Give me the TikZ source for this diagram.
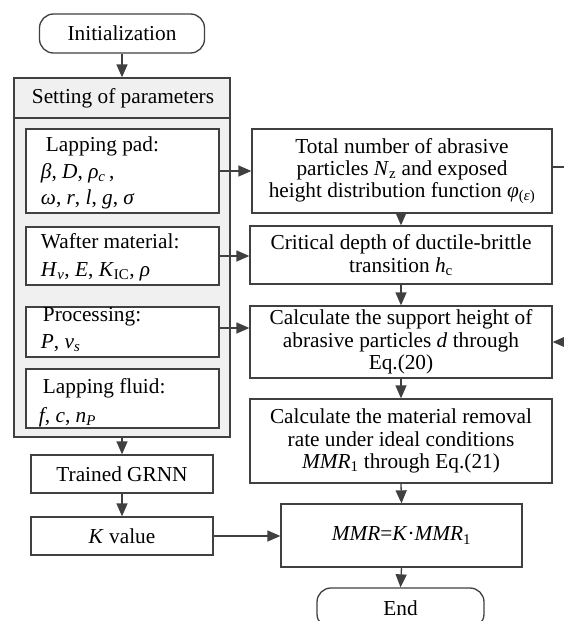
\documentclass[tikz,border=0pt]{standalone}
\usepackage{fontspec}
\setmainfont{Liberation Serif}
\usetikzlibrary{arrows.meta,calc}
\newcommand\lsb[1]{\textsubscript{#1}}
\begin{document}
\begin{tikzpicture}[x=1pt,y=-1pt,
  line width=1.3pt,
  every node/.style={font=\fontsize{21.3}{22.3}\selectfont, text=black},
  ln/.style={draw=black!75, line width=1.3pt},
  arr/.style={ln, -{Triangle[length=13pt,width=11pt]}},
  bx/.style={ln, rectangle, inner sep=0pt, align=center},
  term/.style={ln, rectangle, rounded corners=14pt, inner sep=0pt},
  pbox/.style={ln, fill=white, rectangle, minimum width=193pt, inner sep=0pt}
]
\useasboundingbox (0,0) rectangle (564,621);
\fill[white] (0,0) rectangle (564,621);

% start
\node[term, minimum width=165pt, minimum height=39pt] (init) at (122,33.5) {Initialization};

% outer parameter box
\node[ln, fill=black!6, rectangle, minimum width=216pt, minimum height=359pt, inner sep=0pt] (outer) at (122,257.5) {};
\draw[ln] (14,118) -- (230,118);
\node (head) at (123,98) {Setting of parameters};

% parameter boxes
\node[pbox, minimum height=84pt] (pad) at (122.5,171) {};
\node[anchor=base west] (pad1) at (42,151) {Lapping pad:};
\node[anchor=base west] (pad2) at (37,178) {\textit{β}, \textit{D}, \textit{ρ}\lsb{\textit{c}}\,,};
\node[anchor=base west] (pad3) at (37,204) {\textit{ω}, \textit{r}, \textit{l}, \textit{g}, \textit{σ}};

\node[pbox, minimum height=58pt] (waf) at (122.5,256) {};
\node[anchor=base west] (waf1) at (37,248) {Wafter material:};
\node[anchor=base west] (waf2) at (37,276) {\textit{H}\lsb{\textit{v}}, \textit{E}, \textit{K}\lsb{IC}, \textit{ρ}};

\node[pbox, minimum height=50pt] (proc) at (122.5,332) {};
\node[anchor=base west] (proc1) at (39,321) {Processing:};
\node[anchor=base west] (proc2) at (37,348) {\textit{P}, \textit{v}\lsb{\textit{s}}};

\node[pbox, minimum height=59pt] (flu) at (122.5,398.5) {};
\node[anchor=base west] (flu1) at (39,393) {Lapping fluid:};
\node[anchor=base west] (flu2) at (35,422) {\textit{f}, \textit{c}, \textit{n}\lsb{\textit{P}}};

% left lower column
\node[bx, minimum width=182pt, minimum height=38pt] (grnn) at (122,474) {Trained GRNN};
\node[bx, minimum width=182pt, minimum height=38pt] (kval) at (122,536) {\textit{K} value};

% right column
\node[bx, minimum width=300pt, minimum height=84pt] (tot) at (402,171)
  {Total number of abrasive\\particles \textit{N}\lsb{z} and exposed\\height distribution function \textit{φ}\lsb{(\textit{ε})}};
\node[bx, minimum width=302pt, minimum height=58pt] (crit) at (401,255)
  {Critical depth of ductile-brittle\\transition \textit{h}\lsb{c}};
\node[bx, minimum width=302pt, minimum height=72pt] (sup) at (401,342)
  {Calculate the support height of\\abrasive particles \textit{d} through\\Eq.(20)};
\node[bx, minimum width=302pt, minimum height=84pt] (mat) at (401,441)
  {Calculate the material removal\\rate under ideal conditions\\\textit{MMR}\lsb{1} through Eq.(21)};
\node[bx, minimum width=241pt, minimum height=63pt] (mmr) at (401.5,535.5)
  {\textit{MMR}=\textit{K}·\textit{MMR}\lsb{1}};
\node[term, minimum width=167pt, minimum height=40pt] (endn) at (400.5,608) {End};

% connectors
\draw[arr] (init.south) -- (outer.north);
\draw[arr] (outer.south) -- (grnn.north);
\draw[arr] (grnn.south) -- (kval.north);
\draw[arr] (kval.east) -- (kval.east -| mmr.west);
\draw[arr] (pad.east) -- (pad.east -| tot.west);
\draw[arr] (waf.east) -- (waf.east -| crit.west);
\coordinate (pa) at ($(proc.east)+(0,-4)$);
\draw[arr] (pa) -- (pa -| sup.west);
\draw[arr] (tot.south -| crit.north) -- (crit.north);
\draw[arr] (crit.south) -- (sup.north);
\draw[arr] (sup.south) -- (mat.north);
\draw[arr] (mat.south) -- (mmr.north);
\draw[arr] (mmr.south) -- (endn.north);
\coordinate (ta) at ($(tot.east)+(0,-4)$);
\coordinate (loopa) at (580,167);
\draw[arr] (ta) -- (loopa) |- (sup.east);
\end{tikzpicture}
\end{document}
